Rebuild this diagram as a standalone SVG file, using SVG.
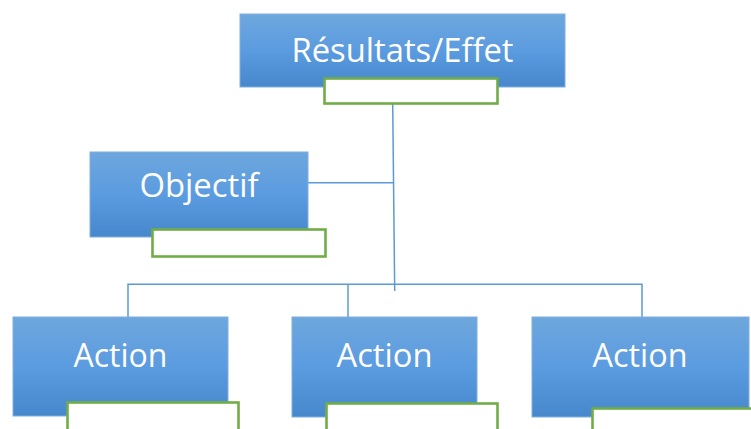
<svg xmlns="http://www.w3.org/2000/svg" width="751" height="429" viewBox="0 0 751 429">
  <defs>
    <linearGradient id="blueFill" x1="0" y1="0" x2="0" y2="1">
      <stop offset="0" stop-color="#6ea7dd"/>
      <stop offset="0.5" stop-color="#5b9be0"/>
      <stop offset="1" stop-color="#4688cb"/>
    </linearGradient>
    <style>
      .box { fill: url(#blueFill); stroke: #7fb0e0; stroke-width: 1; }
      .tag { fill: #ffffff; stroke: #70ad47; stroke-width: 2.6; }
      .label { font-family: "Open Sans", "Noto Sans", "Liberation Sans", sans-serif; font-size: 33px; fill: #ffffff; text-anchor: middle; }
      .link { fill: none; stroke: #5b9bd5; stroke-width: 1.5; }
    </style>
  </defs>
  <rect width="751" height="429" fill="#ffffff"/>

  <g id="connectors">
    <path class="link" d="M392.7 104 L394.7 291"/>
    <path class="link" d="M308 182.7 H393.5"/>
    <path class="link" d="M128 317 V284.3 H642 V318"/>
    <path class="link" d="M348 284.3 V318"/>
  </g>

  <g id="node-resultats">
    <rect class="box" x="240" y="14" width="325" height="73"/>
    <text class="label" x="402.5" y="62" textLength="222" lengthAdjust="spacingAndGlyphs">Résultats/Effet</text>
    <rect class="tag" x="324.5" y="78.5" width="173" height="25"/>
  </g>

  <g id="node-objectif">
    <rect class="box" x="90" y="152" width="218" height="85"/>
    <text class="label" x="199" y="197" textLength="119" lengthAdjust="spacingAndGlyphs">Objectif</text>
    <rect class="tag" x="152.5" y="229.5" width="173" height="27"/>
  </g>

  <g id="node-action-1">
    <rect class="box" x="13" y="317" width="215" height="99"/>
    <text class="label" x="120.5" y="367" textLength="94" lengthAdjust="spacingAndGlyphs">Action</text>
    <rect class="tag" x="67.5" y="402.5" width="171" height="34"/>
  </g>

  <g id="node-action-2">
    <rect class="box" x="292" y="317" width="185" height="100"/>
    <text class="label" x="384.5" y="367" textLength="96" lengthAdjust="spacingAndGlyphs">Action</text>
    <rect class="tag" x="326.5" y="403.5" width="171" height="34"/>
  </g>

  <g id="node-action-3">
    <rect class="box" x="532" y="317" width="217" height="100"/>
    <text class="label" x="640" y="367" textLength="95" lengthAdjust="spacingAndGlyphs">Action</text>
    <rect class="tag" x="592.5" y="408.5" width="170" height="30"/>
  </g>
</svg>
